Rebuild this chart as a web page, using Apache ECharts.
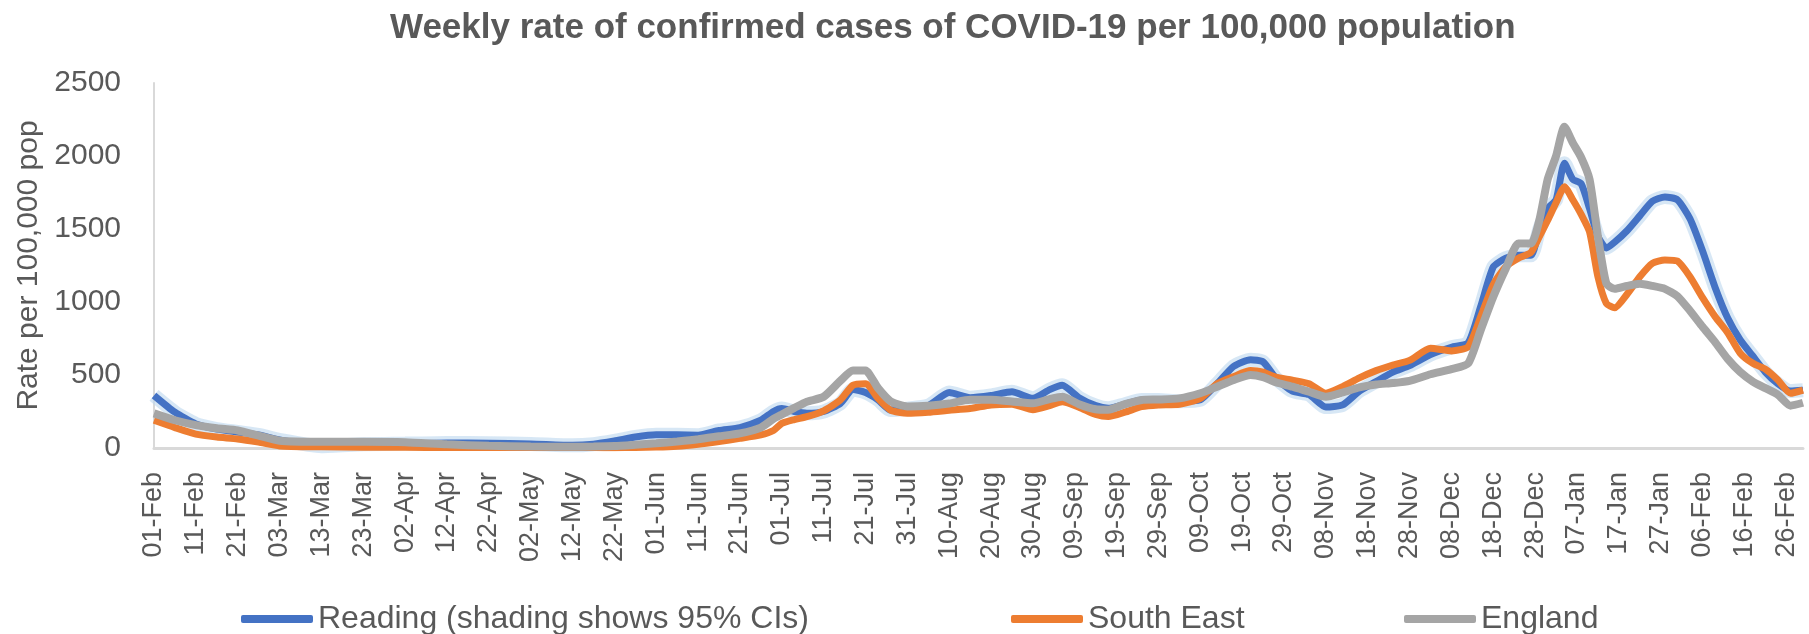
<!DOCTYPE html>
<html>
<head>
<meta charset="utf-8">
<script src="https://cdn.jsdelivr.net/npm/echarts@6/dist/echarts.min.js"></script>
<style>
  html, body { margin: 0; padding: 0; background: #fff; }
  #chart { width: 1809px; height: 634px; }
</style>
</head>
<body>
<div id="chart"></div>
<script>
const sampleDates = [
  "2021-02-01", "2021-02-06", "2021-02-11", "2021-02-16", "2021-02-21", "2021-02-26", "2021-03-03", "2021-03-13", "2021-03-23", "2021-04-02",
  "2021-04-12", "2021-04-22", "2021-05-02", "2021-05-12", "2021-05-17", "2021-05-22", "2021-05-27", "2021-06-01", "2021-06-06", "2021-06-11",
  "2021-06-16", "2021-06-21", "2021-06-26", "2021-06-29", "2021-07-01", "2021-07-04", "2021-07-07", "2021-07-11", "2021-07-15", "2021-07-18",
  "2021-07-21", "2021-07-24", "2021-07-27", "2021-07-31", "2021-08-05", "2021-08-10", "2021-08-15", "2021-08-20", "2021-08-25", "2021-08-30",
  "2021-09-03", "2021-09-06", "2021-09-10", "2021-09-14", "2021-09-17", "2021-09-21", "2021-09-25", "2021-09-29", "2021-10-04", "2021-10-09",
  "2021-10-13", "2021-10-17", "2021-10-21", "2021-10-24", "2021-10-27", "2021-10-31", "2021-11-04", "2021-11-08", "2021-11-12", "2021-11-16",
  "2021-11-20", "2021-11-24", "2021-11-28", "2021-12-03", "2021-12-08", "2021-12-12", "2021-12-15", "2021-12-18", "2021-12-21", "2021-12-24",
  "2021-12-27", "2021-12-29", "2021-12-31", "2022-01-02", "2022-01-04", "2022-01-06", "2022-01-08", "2022-01-10", "2022-01-12", "2022-01-14",
  "2022-01-16", "2022-01-19", "2022-01-22", "2022-01-25", "2022-01-28", "2022-01-31", "2022-02-03", "2022-02-06", "2022-02-09", "2022-02-12",
  "2022-02-15", "2022-02-18", "2022-02-21", "2022-02-24", "2022-02-27", "2022-03-02"
];

const reading = [
  360, 245, 165, 130, 110, 90, 55, 12, 25, 30,
  35, 32, 28, 18, 26, 48, 75, 90, 90, 88,
  120, 140, 190, 250, 270, 250, 238, 250, 306, 400,
  380, 330, 260, 270, 290, 380, 345, 360, 385, 340,
  400, 430, 345, 290, 272, 300, 329, 329, 320, 330,
  440, 560, 605, 590, 480, 390, 365, 280, 295, 390,
  455, 520, 565, 640, 690, 720, 970, 1240, 1300, 1320,
  1320, 1500, 1640, 1700, 1950, 1840, 1810, 1640, 1450, 1370,
  1410, 1490, 1590, 1690, 1720, 1700, 1570, 1350, 1100, 890,
  740, 630, 520, 440, 390, 395
];

const southEast = [
  190, 140, 95, 75, 62, 40, 14, 8, 5, 5,
  3, 3, 3, 3, 3, 2, 4, 6, 12, 26,
  45, 66, 90, 120, 169, 195, 215, 255, 329, 430,
  440, 340, 260, 238, 245, 258, 270, 295, 300, 262,
  290, 317, 280, 230, 215, 245, 283, 295, 300, 340,
  440, 490, 530, 520, 485, 465, 440, 375, 420, 480,
  530, 568, 600, 683, 665, 694, 900, 1120, 1242, 1300,
  1340, 1447, 1560, 1680, 1790, 1700, 1600, 1480, 1173, 991,
  960, 1055, 1173, 1265, 1288, 1280, 1173, 1030, 900, 790,
  649, 580, 540, 466, 375, 397
];

const england = [
  237, 190, 157, 135, 120, 85, 50, 43, 43, 40,
  25, 15, 10, 9, 10, 13, 22, 32, 45, 60,
  80, 100, 140, 200, 230, 275, 317, 351, 460, 530,
  530, 410, 320, 285, 290, 305, 330, 330, 318, 306,
  335, 351, 300, 265, 262, 300, 329, 332, 340, 375,
  420, 466, 500, 485, 450, 420, 385, 351, 380, 415,
  435, 445, 460, 505, 540, 580, 808, 1036, 1230, 1400,
  1400, 1560, 1840, 2000, 2200, 2090, 1990, 1840, 1450, 1128,
  1090, 1110, 1125, 1110, 1090, 1040, 940, 830, 725, 610,
  520, 455, 410, 365, 290, 310
];

const seriesNames = ["Reading (shading shows 95% CIs)", "South East", "England"];
const monthNames = ["Jan", "Feb", "Mar", "Apr", "May", "Jun", "Jul", "Aug", "Sep", "Oct", "Nov", "Dec"];

// one category per day, 01-Feb-2021 .. 02-Mar-2022
const firstDay = Date.UTC(2021, 1, 1);
const dayCount = 395;
const days = [];
for (let i = 0; i < dayCount; i++) {
  days.push(new Date(firstDay + i * 86400000).toISOString().slice(0, 10));
}

const pairs = (vals) => sampleDates.map((d, i) => [d, vals[i]]);
const fmtDay = (s) => s.slice(8, 10) + "-" + monthNames[Number(s.slice(5, 7)) - 1];

const FONT = "Liberation Sans";
const GREY_TEXT = "#595959";

const chart = echarts.init(document.getElementById("chart"));

const legendAt = (name, left) => ({
  data: [name],
  left: left,
  top: 598,
  icon: "roundRect",
  itemWidth: 72,
  itemHeight: 8,
  textStyle: { fontSize: 32, color: GREY_TEXT, fontFamily: FONT }
});

chart.setOption({
  animation: false,
  backgroundColor: "#fff",
  title: {
    text: "Weekly rate of confirmed cases of COVID-19 per 100,000 population",
    left: 385,
    top: 6,
    textStyle: { fontSize: 35, fontWeight: "bold", color: GREY_TEXT, fontFamily: FONT }
  },
  legend: [
    legendAt(seriesNames[0], 236),
    legendAt(seriesNames[1], 1006),
    legendAt(seriesNames[2], 1399)
  ],
  grid: { left: 154, right: 6, top: 83, bottom: 186 },
  xAxis: {
    type: "category",
    data: days,
    boundaryGap: false,
    axisLine: { lineStyle: { color: "#d9d9d9", width: 3 } },
    axisTick: { show: false },
    axisLabel: {
      interval: 9,
      rotate: 90,
      margin: 24,
      fontSize: 27,
      color: GREY_TEXT,
      fontFamily: FONT,
      formatter: fmtDay
    },
    splitLine: { show: false }
  },
  yAxis: {
    type: "value",
    min: 0,
    max: 2500,
    interval: 500,
    name: "Rate per 100,000 pop",
    nameLocation: "middle",
    nameRotate: 90,
    nameGap: 98,
    nameTextStyle: { fontSize: 30, color: GREY_TEXT, fontFamily: FONT },
    axisLine: { show: true, lineStyle: { color: "#d9d9d9", width: 2 } },
    axisTick: { show: false },
    axisLabel: {
      fontSize: 30,
      color: GREY_TEXT,
      fontFamily: FONT,
      margin: 33,
      formatter: (v) => String(v)
    },
    splitLine: { show: false }
  },
  series: [
    {
      name: "Reading CI",
      type: "line",
      data: pairs(reading),
      showSymbol: false,
      smooth: 0.2,
      silent: true,
      z: 1,
      lineStyle: { color: "rgba(189, 215, 238, 0.6)", width: 14 },
      itemStyle: { color: "rgba(189, 215, 238, 0.6)" }
    },
    {
      name: seriesNames[0],
      type: "line",
      data: pairs(reading),
      showSymbol: false,
      smooth: 0.2,
      z: 2,
      lineStyle: { color: "#4472C4", width: 7 },
      itemStyle: { color: "#4472C4" }
    },
    {
      name: seriesNames[1],
      type: "line",
      data: pairs(southEast),
      showSymbol: false,
      smooth: 0.2,
      z: 3,
      lineStyle: { color: "#ED7D31", width: 7 },
      itemStyle: { color: "#ED7D31" }
    },
    {
      name: seriesNames[2],
      type: "line",
      data: pairs(england),
      showSymbol: false,
      smooth: 0.2,
      z: 4,
      lineStyle: { color: "#A5A5A5", width: 8 },
      itemStyle: { color: "#A5A5A5" }
    }
  ]
});
</script>
</body>
</html>
